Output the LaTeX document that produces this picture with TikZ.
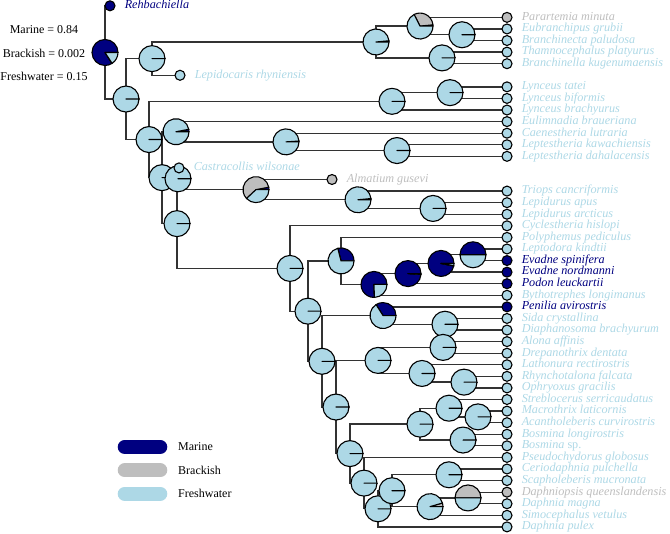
\documentclass[tikz,border=0pt]{standalone}
\usepackage{fontspec}
\setmainfont{Liberation Serif}
\usetikzlibrary{calc}

\definecolor{marine}{HTML}{000080}
\definecolor{brack}{HTML}{BEBEBE}
\definecolor{fresh}{HTML}{ADD8E6}

\newcommand{\pieR}{13pt}
% 节点饼图：#1 节点, #2 海水比例, #3 半咸水比例（其余为淡水）
\newcommand{\statepie}[3]{%
  \pgfmathsetmacro{\angA}{360*#2}%
  \pgfmathsetmacro{\angB}{360*(#2+#3)}%
  \filldraw[pieedge, fill=marine] (#1) -- ++(0:\pieR) arc[start angle=0, end angle=\angA, radius=\pieR] -- cycle;%
  \filldraw[pieedge, fill=brack] (#1) -- ++(\angA:\pieR) arc[start angle=\angA, end angle=\angB, radius=\pieR] -- cycle;%
  \filldraw[pieedge, fill=fresh] (#1) -- ++(\angB:\pieR) arc[start angle=\angB, end angle=360, radius=\pieR] -- cycle;%
}

% 末端类群：槽位/横坐标/名称/状态
\def\tiplist{0/110/Rehbachiella/marine,%
1/507/Parartemia minuta/brack,%
2/507/Eubranchipus grubii/fresh,%
3/507/Branchinecta paludosa/fresh,%
4/507/Thamnocephalus platyurus/fresh,%
5/507/Branchinella kugenumaensis/fresh,%
6/180/Lepidocaris rhyniensis/fresh,%
7/507/Lynceus tatei/fresh,%
8/507/Lynceus biformis/fresh,%
9/507/Lynceus brachyurus/fresh,%
10/507/Eulimnadia braueriana/fresh,%
11/507/Caenestheria lutraria/fresh,%
12/507/Leptestheria kawachiensis/fresh,%
13/507/Leptestheria dahalacensis/fresh,%
14/179/Castracollis wilsonae/fresh,%
15/332/Almatium gusevi/brack,%
16/507/Triops cancriformis/fresh,%
17/507/Lepidurus apus/fresh,%
18/507/Lepidurus arcticus/fresh,%
19/507/Cyclestheria hislopi/fresh,%
20/507/Polyphemus pediculus/fresh,%
21/507/Leptodora kindtii/fresh,%
22/507/Evadne spinifera/marine,%
23/507/Evadne nordmanni/marine,%
24/507/Podon leuckartii/marine,%
25/507/Bythotrephes longimanus/fresh,%
26/507/Penilia avirostris/marine,%
27/507/Sida crystallina/fresh,%
28/507/Diaphanosoma brachyurum/fresh,%
29/507/Alona affinis/fresh,%
30/507/Drepanothrix dentata/fresh,%
31/507/Lathonura rectirostris/fresh,%
32/507/Rhynchotalona falcata/fresh,%
33/507/Ophryoxus gracilis/fresh,%
34/507/Streblocerus serricaudatus/fresh,%
35/507/Macrothrix laticornis/fresh,%
36/507/Acantholeberis curvirostris/fresh,%
37/507/Bosmina longirostris/fresh,%
38/507/Bosmina {\upshape sp.}/fresh,%
39/507/Pseudochydorus globosus/fresh,%
40/507/Ceriodaphnia pulchella/fresh,%
41/507/Scapholeberis mucronata/fresh,%
42/507/Daphniopsis queenslandensis/brack,%
43/507/Daphnia magna/fresh,%
44/507/Simocephalus vetulus/fresh,%
45/507/Daphnia pulex/fresh}

\begin{document}
\begin{tikzpicture}[x=1pt, y=-1pt,
  branch/.style={line width=1.3pt, black!80},
  pieedge/.style={draw=black, line width=1.1pt, line join=round},
  tipdot/.style={circle, draw=black, line width=1.1pt, minimum size=10pt, inner sep=0pt},
  tiplabel/.style={font=\fontsize{12.2}{14}\selectfont\itshape, inner sep=0pt,
    text height=7.5pt, text depth=1.8pt},
  label distance=9pt,
  note/.style={font=\fontsize{12}{14}\selectfont, inner sep=0pt},
  legbar/.style={line width=14pt, line cap=round}]

  \useasboundingbox (0,0) rectangle (670,534);

  % =========== 坐标定义 ===========
  % 末端：纵坐标按槽位等距
  \foreach \i/\x/\txt/\st in \tiplist
    \coordinate (t\i) at (\x,{5.8+11.58*\i});
  % 内部节点：纵坐标取子节点槽位的平均
  \foreach \n/\x/\s in {R/105/4.03, A1/126/8.05, A2/152/4.5625, An/376/3.125,
      B/420/1.75, D/462/2.5, C/442/4.5, N2/149/11.55, E/392/8.25, F/450/7.5,
      N3/162/14.84, S/176/10.875, S2/286/11.75, S3/397/12.5, N4/177/18.81,
      K/178/14.9375, G/256/15.875, T/358/16.75, T2/433/17.5, N5/290/22.68,
      C1/308/26.37, O/341/22.03, O2/374/24.0625, O3/408/23.125, O4/441/22.25,
      O5/473/21.5, C2/322/30.7, P/383/26.75, Q/445/27.5, C3/336/34.65,
      H1/378/30.625, H2/443/29.5, H3/422/31.75, H4/464/32.5, J/350/38.67,
      J1/420/36.125, J2/449/34.75, J3/478/35.5, J4/463/37.5, L/364/41.22,
      L1/378/43.4375, L2/392/41.875, L3/449/40.5, L4/430/43.25, L5/468/42.5}
    \coordinate (\n) at (\x,{5.8+11.58*\s});

  % =========== 树枝 ===========
  \foreach \p/\c in {R/t0, R/A1, A1/A2, A1/N2, A2/An, A2/t6, An/B, An/C,
      B/t1, B/D, D/t2, D/t3, C/t4, C/t5, N2/E, N2/N3, E/F, E/t9, F/t7, F/t8,
      N3/S, N3/N4, S/t10, S/S2, S2/t11, S2/S3, S3/t12, S3/t13, N4/K, N4/N5,
      K/t14, K/G, G/t15, G/T, T/t16, T/T2, T2/t17, T2/t18, N5/t19, N5/C1,
      C1/O, C1/C2, O/t20, O/O2, O2/O3, O2/t25, O3/O4, O3/t24, O4/O5, O4/t23,
      O5/t21, O5/t22, C2/P, C2/C3, P/t26, P/Q, Q/t27, Q/t28, C3/H1, C3/J,
      H1/H2, H1/H3, H2/t29, H2/t30, H3/t31, H3/H4, H4/t32, H4/t33, J/J1, J/L,
      J1/J2, J1/J4, J2/t34, J2/J3, J3/t35, J3/t36, J4/t37, J4/t38, L/t39, L/L1,
      L1/L2, L1/t45, L2/L3, L2/L4, L3/t40, L3/t41, L4/L5, L4/t44, L5/t42, L5/t43}
    \draw[branch] (\p) |- (\c);

  % =========== 祖先状态饼图 ===========
  \foreach \n/\m/\b in {R/0.84/0.002, A1/0/0, A2/0/0, An/0.015/0, B/0.015/0.31,
      D/0/0, C/0/0, N2/0/0, E/0/0, F/0/0, N3/0/0, S/0.03/0, S2/0.01/0, S3/0/0,
      N4/0/0, K/0/0, G/0.03/0.59, T/0.015/0, T2/0/0, N5/0/0, C1/0/0, O/0.29/0,
      O2/0.755/0, O3/0.99/0, O4/0.97/0, O5/0.5/0, C2/0/0, P/0.34/0, Q/0/0,
      C3/0/0, H1/0/0, H2/0/0, H3/0/0, H4/0/0, J/0/0, J1/0/0, J2/0/0, J3/0/0,
      J4/0/0, L/0/0, L1/0/0, L2/0/0, L3/0/0, L4/0/0.045, L5/0/0.5}
    \statepie{\n}{\m}{\b};

  % =========== 末端圆点与名称 ===========
  \foreach \i/\x/\txt/\st in \tiplist
    \node[tipdot, fill=\st, label={[tiplabel, text=\st]right:\txt}] (tip\i) at (t\i) {};

  % =========== 根节点概率 ===========
  \node[note] (rootm) at (44,30) {Marine = 0.84};
  \node[note] (rootb) at (44,53) {Brackish = 0.002};
  \node[note] (rootf) at (44,76) {Freshwater = 0.15};

  % =========== 图例 ===========
  \foreach \k/\txt/\yy in {marine/Marine/447, brack/Brackish/470.3, fresh/Freshwater/493.7} {
    \draw[legbar, draw=\k] (124.7,\yy) -- (160.3,\yy);
    \node[note, anchor=west] (leg\k) at (178,\yy) {\txt};
  }

\end{tikzpicture}
\end{document}
